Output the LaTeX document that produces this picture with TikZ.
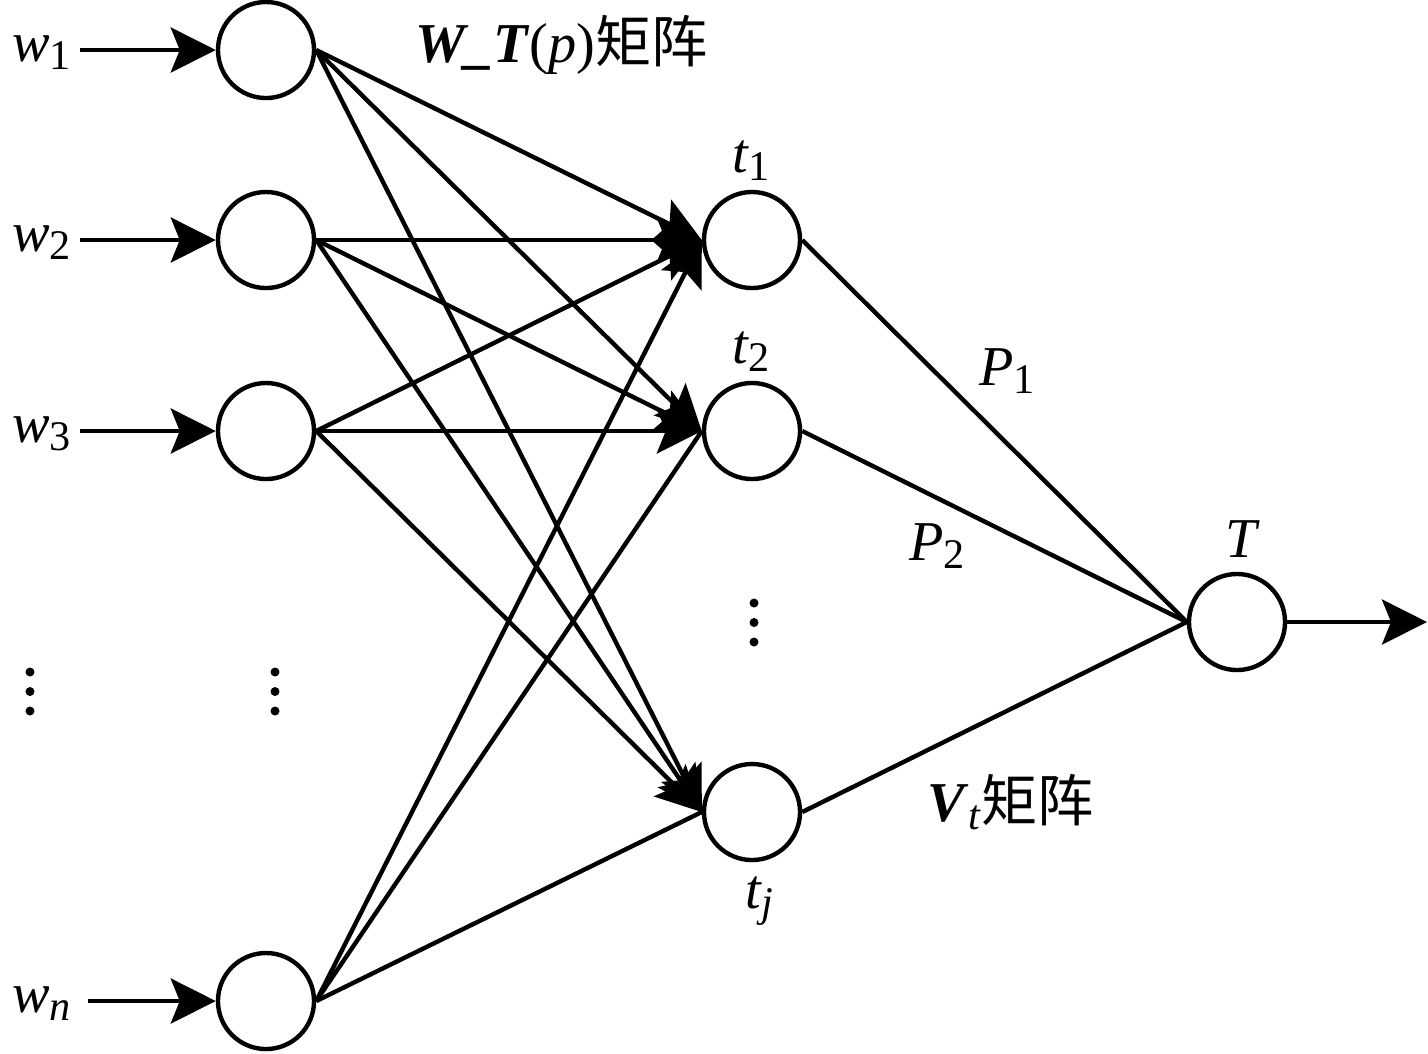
\documentclass[tikz,border=0pt]{standalone}
\usepackage{fontspec}
\setmainfont{Liberation Serif}
\newfontfamily\cjk{Noto Sans CJK SC}
\usetikzlibrary{positioning,arrows.meta}

\newcommand{\sbs}[2]{\textit{#1}\raisebox{-0.15em}{\fontsize{12}{12}\selectfont #2}}

\begin{document}
\begin{tikzpicture}[x=0.01cm,y=-0.01cm,line width=1.25pt,
  neuron/.style={draw,circle,minimum size=0.96cm,inner sep=0pt},
  lbl/.style={inner sep=0pt,anchor=base west,font=\fontsize{16}{18}\selectfont},
  arr/.style={-{Stealth[length=0.45cm,width=0.45cm,inset=0.09cm]}}]
\useasboundingbox (0,0) rectangle (1428,1053);
% input layer
\foreach \i/\y/\s/\t in {1/50/80/1,2/240/80/2,3/431/80/3,n/1001/88/\textit{n}}{
  \node[neuron] (w\i) at (266,\y) {};
  \node[lbl] (lw\i) at (10,\y+11) {\sbs{w}{\t}};
  \coordinate (s\i) at (\s,\y);
  \draw[arr] (s\i) -- (w\i);
}
% hidden layer
\node[neuron] (t1) at (752,240) {};
\node[neuron] (t2) at (752,431) {};
\node[neuron] (tj) at (752,812) {};
\node[lbl] (lt1) at (730,172) {\sbs{t}{1}};
\node[lbl] (lt2) at (730,363) {\sbs{t}{2}};
\node[lbl] (ltj) at (743,908) {\sbs{t}{\textit{j}}};
% output
\node[neuron] (out) at (1237,622) {};
\node[lbl] (lT) at (1223,557) {\textit{T}};
\coordinate (e) at (1427,622);
\draw[arr] (out) -- (e);
% weights
\foreach \a in {1,2,3}
  \foreach \b in {1,2,j}
    \draw[arr] (w\a.east) -- (t\b.west);
\draw[arr] (wn.east) -- (t1.west);
\draw (wn.east) -- (t2.west);
\draw (wn.east) -- (tj.west);
\foreach \b in {1,2,j}
  \draw (t\b.east) -- (out.west);
% labels
\node[lbl] (lp1) at (977,385) {\sbs{P}{1}};
\node[lbl] (lp2) at (907,560) {\sbs{P}{2}};
\node[lbl] (lwt) at (413,62) {\textbf{\textit{W\_T}}(\textit{p}){\cjk\fontsize{16}{16}\selectfont 矩阵}};
\node[lbl] (lvt) at (925,821) {\textbf{\textit{V}}\raisebox{-0.15em}{\fontsize{12}{12}\selectfont\textit{t}}{\cjk\fontsize{16}{16}\selectfont 矩阵}};
% dots
\foreach \x/\y in {30/672,275/672,754/603}
  \foreach \k in {0,1,2}
    \fill (\x,\y+19.5*\k) circle (0.045cm);
\end{tikzpicture}
\end{document}
